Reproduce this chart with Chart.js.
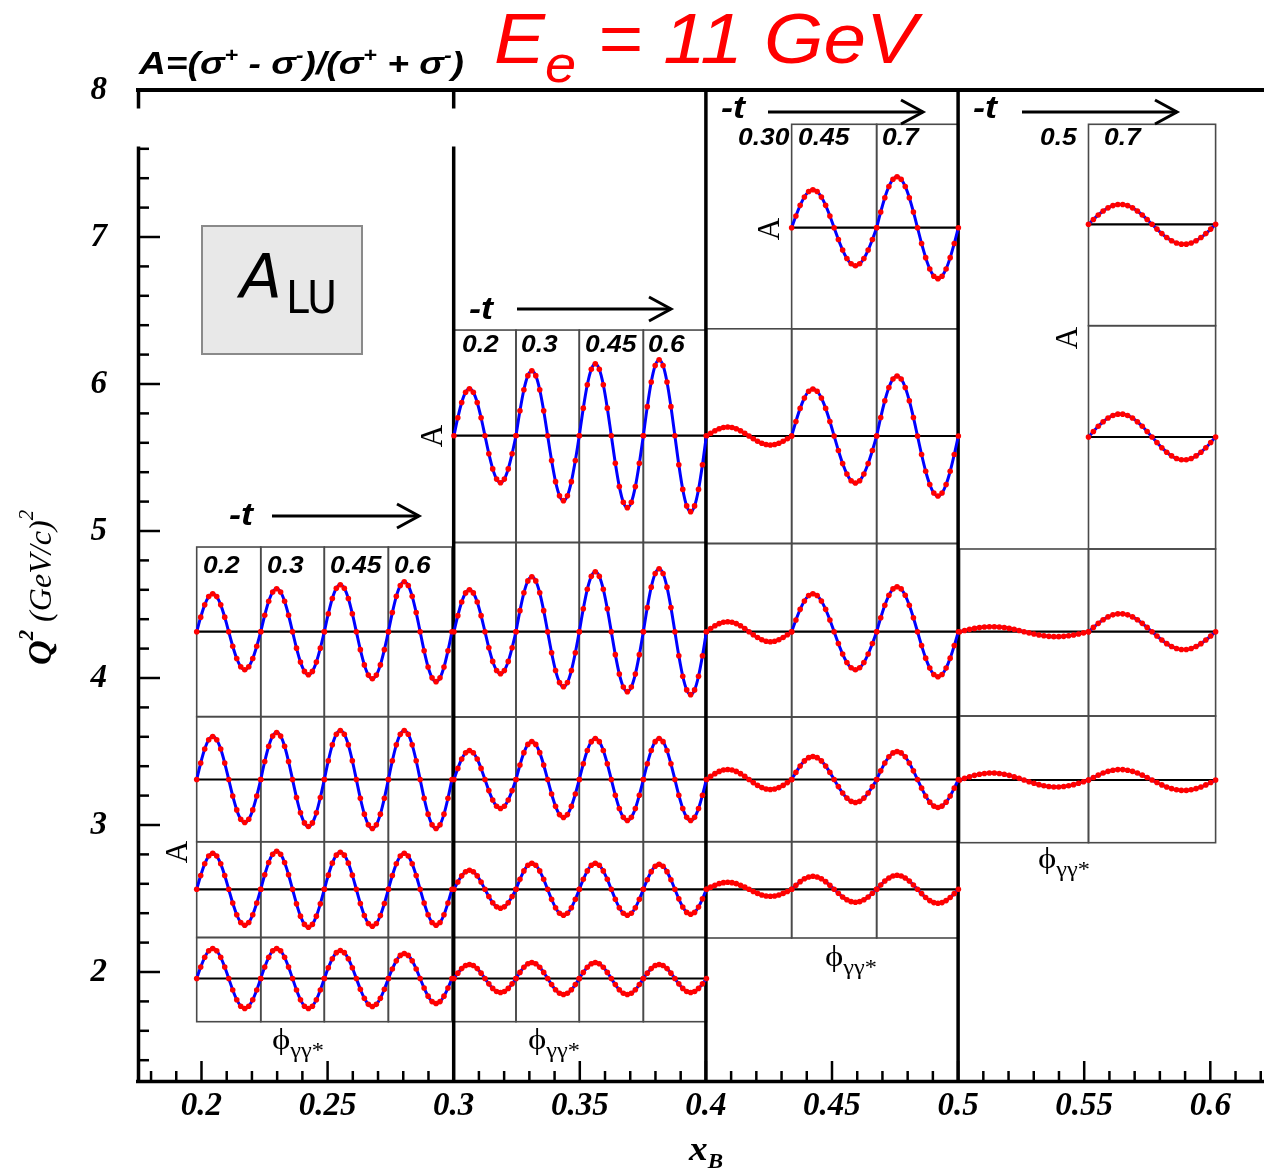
<!DOCTYPE html>
<html>
<head>
<meta charset="utf-8">
<script src="https://cdn.jsdelivr.net/npm/chart.js@4.4.0/dist/chart.umd.min.js"></script>
<style>
  html, body { margin: 0; padding: 0; background: #fff; }
  canvas { display: block; }
</style>
</head>
<body>
<canvas id="chart" width="1264" height="1172"></canvas>
<script>
// main axes
const xMajorTicks = [0.2, 0.25, 0.3, 0.35, 0.4, 0.45, 0.5, 0.55, 0.6];
const xTickLabels = ['0.2', '0.25', '0.3', '0.35', '0.4', '0.45', '0.5', '0.55', '0.6'];
const yMajorTicks = [2, 3, 4, 5, 6, 7, 8];
const yTickLabels = ['2', '3', '4', '5', '6', '7', '8'];

// -t bins of each xB bin
const tBins1 = ['0.2', '0.3', '0.45', '0.6'];
const tBins2 = ['0.2', '0.3', '0.45', '0.6'];
const tBins3 = ['0.30', '0.45', '0.7'];
const tBins4 = ['0.5', '0.7'];

// A_LU amplitude (A = a sin phi) for each inset, rows from high Q2 to low Q2, columns by -t
const alu1 = [
  [0.38, 0.43, 0.47, 0.50],
  [0.43, 0.47, 0.49, 0.49],
  [0.36, 0.38, 0.37, 0.36],
  [0.30, 0.30, 0.28, 0.25]
];
const alu2 = [
  [0.47, 0.65, 0.72, 0.76],
  [0.42, 0.55, 0.60, 0.63],
  [0.29, 0.38, 0.41, 0.41],
  [0.19, 0.26, 0.26, 0.25],
  [0.14, 0.16, 0.16, 0.14]
];
const alu3 = [
  [null, 0.38, 0.51],
  [0.09, 0.47, 0.60],
  [0.10, 0.38, 0.45],
  [0.10, 0.23, 0.28],
  [0.07, 0.13, 0.14]
];
const alu4 = [
  [null, 0.20],
  [null, 0.23],
  [0.05, 0.18],
  [0.07, 0.105]
];

// layout of the inset grids, in (xB, Q2) units
const X_MIN = 0.17443, X_MAX = 0.62129, Y_MIN = 1.2517, Y_MAX = 8;
const A_SCALE = 0.68; // Q2 units per unit of A inside an inset
const groups = [
  { cols: [0.1981, 0.2235, 0.2487, 0.2741, 0.2993], nSeg: 16, alu: alu1, tBins: tBins1,
    rows: [[4.891, 4.315, 3.737], [3.737, 3.3095, 2.886], [2.886, 2.5626, 2.2347], [2.2347, 1.9558, 1.6619]] },
  { cols: [0.3001, 0.3247, 0.3498, 0.3752, 0.4002], nSeg: 16, alu: alu2, tBins: tBins2,
    rows: [[6.367, 5.6483, 4.9218], [4.9218, 4.315, 3.7347], [3.7347, 3.3095, 2.886], [2.886, 2.5626, 2.2347], [2.2347, 1.9558, 1.6619]] },
  { cols: [0.4002, 0.4340, 0.4677, 0.5001], nSeg: 20, alu: alu3, tBins: tBins3,
    rows: [[7.7667, 7.0633, 6.3755], [6.3755, 5.6463, 4.915], [4.915, 4.315, 3.7347], [3.7347, 3.3095, 2.8864], [2.8864, 2.5626, 2.2313]] },
  { cols: [0.5006, 0.5517, 0.6021], nSeg: 26, alu: alu4, tBins: tBins4,
    rows: [[7.7667, 7.0864, 6.3966], [6.3966, 5.6395, 4.8776], [4.8776, 4.315, 3.7415], [3.7415, 3.3061, 2.8796]] }
];

// one dataset per inset
const datasets = [];
groups.forEach(g => {
  g.rows.forEach((r, ri) => {
    g.alu[ri].forEach((a, ci) => {
      if (a === null) return;
      const x0 = g.cols[ci], x1 = g.cols[ci + 1];
      const pts = [];
      for (let i = 0; i <= g.nSeg; i++) {
        const phi = i * 360 / g.nSeg;
        pts.push({ x: x0 + (x1 - x0) * phi / 360, y: r[1] + a * A_SCALE * Math.sin(phi * Math.PI / 180) });
      }
      datasets.push({
        data: pts,
        showLine: true,
        borderColor: '#0000ff',
        borderWidth: 3,
        cubicInterpolationMode: 'monotone',
        pointRadius: 2.8,
        pointBackgroundColor: '#ff0000',
        pointBorderWidth: 0
      });
    });
  });
});

function line(ctx, x0, y0, x1, y1) {
  ctx.beginPath(); ctx.moveTo(x0, y0); ctx.lineTo(x1, y1); ctx.stroke();
}

// text in pieces [text, font, dy], optionally squeezed to a width and rotated
function rich(ctx, parts, x, y, w, opts) {
  opts = opts || {};
  ctx.save();
  ctx.fillStyle = opts.color || '#000';
  ctx.textAlign = 'left';
  ctx.textBaseline = 'alphabetic';
  let total = 0;
  const widths = parts.map(p => { ctx.font = p[1]; const m = ctx.measureText(p[0]).width; total += m; return m; });
  ctx.translate(x, y);
  if (opts.rot) ctx.rotate(opts.rot);
  let off = 0;
  if (opts.center) off = -(w || total) / 2;
  ctx.translate(off, 0);
  ctx.scale(w ? w / total : 1, 1);
  let cx = 0;
  parts.forEach((p, i) => { ctx.font = p[1]; ctx.fillText(p[0], cx, p[2] || 0); cx += widths[i]; });
  ctx.restore();
}

const SANS = '"Liberation Sans", Arial, sans-serif';
const SERIF = '"Liberation Serif", "Times New Roman", serif';

const decor = {
  id: 'decor',
  beforeDatasetsDraw(chart) {
    const { ctx, chartArea: ca, scales: { x, y } } = chart;
    ctx.save();
    ctx.lineCap = 'butt';
    // inset frames and zero lines
    groups.forEach(g => {
      g.rows.forEach((r, ri) => {
        const top = y.getPixelForValue(r[0]), zero = y.getPixelForValue(r[1]), bot = y.getPixelForValue(r[2]);
        let zx0 = null, zx1 = null;
        g.alu[ri].forEach((a, ci) => {
          if (a === null) return;
          const l = x.getPixelForValue(g.cols[ci]), rr = x.getPixelForValue(g.cols[ci + 1]);
          ctx.strokeStyle = '#4a4a4a';
          ctx.lineWidth = 1.6;
          ctx.strokeRect(l, top, rr - l, bot - top);
          if (zx0 === null) zx0 = l;
          zx1 = rr;
        });
        ctx.strokeStyle = '#000';
        ctx.lineWidth = 2.2;
        line(ctx, zx0, zero, zx1, zero);
      });
    });
    // frame
    ctx.strokeStyle = '#000';
    ctx.lineWidth = 4;
    line(ctx, ca.left - 1, ca.top, ca.right, ca.top);
    ctx.lineWidth = 3.5;
    line(ctx, ca.left - 1, ca.bottom - 0.5, ca.right, ca.bottom - 0.5);
    line(ctx, ca.left + 1.5, ca.top - 2, ca.left + 1.5, ca.bottom + 1);
    [0.3, 0.4, 0.5].forEach(v => {
      const px = x.getPixelForValue(v);
      line(ctx, px, ca.top - 2, px, ca.bottom + 1);
    });
    // inward ticks
    ctx.lineWidth = 2.5;
    for (let i = 18; i <= 62; i++) {
      const px = x.getPixelForValue(i / 100);
      const len = (i % 5 === 0) ? 21 : 11;
      line(ctx, px, ca.bottom, px, ca.bottom - len);
    }
    for (let i = 7; i <= 40; i++) {
      const py = y.getPixelForValue(i / 5);
      const len = (i % 5 === 0) ? 23 : 12;
      line(ctx, ca.left, py, ca.left + len, py);
    }
    // break in the frame under the title
    ctx.fillStyle = '#fff';
    ctx.fillRect(ca.left - 10, 108.5, 22, 38);
    const p3 = x.getPixelForValue(0.3);
    ctx.fillRect(p3 - 6, 108.5, 12, 38);
    ctx.restore();
  },
  afterDraw(chart) {
    const { ctx } = chart;
    ctx.save();
    // titles
    const F = 'italic bold 32px ' + SANS, S = 'italic bold 20px ' + SANS;
    rich(ctx, [['A=(\u03c3', F], ['+', S, -12], [' - \u03c3', F], ['-', S, -12], [')/(\u03c3', F],
      ['+', S, -12], [' + \u03c3', F], ['-', S, -12], [')', F]], 139, 74, 325);
    rich(ctx, [['E', 'italic 71px ' + SANS], ['e', 'italic 52px ' + SANS, 19], [' = 11 GeV', 'italic 71px ' + SANS]],
      494, 63, 423, { color: '#ff0000' });

    // axis titles
    rich(ctx, [['Q', 'italic bold 33px ' + SERIF], ['2', 'italic bold 20px ' + SERIF, -18],
      [' (GeV/c)', 'italic 31px ' + SERIF], ['2', 'italic 20px ' + SERIF, -18]], 51, 665, 155, { rot: -Math.PI / 2 });
    rich(ctx, [['x', 'italic bold 34px ' + SERIF], ['B', 'italic bold 21px ' + SERIF, 8]], 689, 1160, 34);

    // A_LU box
    ctx.fillStyle = '#e8e8e8';
    ctx.fillRect(202, 226, 160, 128);
    ctx.strokeStyle = '#8a8a8a';
    ctx.lineWidth = 2;
    ctx.strokeRect(202, 226, 160, 128);
    rich(ctx, [['A', 'italic 60px "DejaVu Sans", sans-serif']], 240, 297, 42);
    rich(ctx, [['LU', '44px "DejaVu Sans", sans-serif']], 286, 313, 51);

    // -t arrows
    const arrows = [[229, 525, 272, 419, 516], [469, 319, 517, 671, 309], [721, 118, 768, 923, 112], [973, 118, 1022, 1177, 112]];
    arrows.forEach(a => {
      rich(ctx, [['-t', 'italic bold 32px ' + SANS]], a[0], a[1], 24);
      ctx.strokeStyle = '#000';
      ctx.lineWidth = 3;
      line(ctx, a[2], a[4], a[3], a[4]);
      ctx.beginPath();
      ctx.moveTo(a[3] - 22, a[4] - 12); ctx.lineTo(a[3], a[4]); ctx.lineTo(a[3] - 22, a[4] + 12);
      ctx.stroke();
    });

    // -t bin labels
    const TL = 'italic bold 24px ' + SANS;
    const tPos = [
      [[203, 573], [267, 573], [330, 573], [394, 573]],
      [[462, 352], [521, 352], [585, 352], [648, 352]],
      [[738, 145], [798, 145], [882, 145]],
      [[1040, 145], [1104, 145]]
    ];
    groups.forEach((g, gi) => {
      g.tBins.forEach((t, ti) => {
        ctx.font = TL;
        const w = ctx.measureText(t).width * 1.1;
        rich(ctx, [[t, TL]], tPos[gi][ti][0], tPos[gi][ti][1], w);
      });
    });

    // inset axis names
    [[176, 852], [431, 436], [768, 229], [1066, 338]].forEach(p => {
      rich(ctx, [['A', '31px ' + SERIF]], p[0] + 10.5, p[1], null, { rot: -Math.PI / 2, center: true });
    });
    [[272, 1049], [528, 1049], [825, 966], [1038, 868]].forEach(p => {
      rich(ctx, [['\u03d5', '30px ' + SERIF], ['\u03b3\u03b3*', '21px ' + SERIF, 8]], p[0], p[1], 52);
    });
    ctx.restore();
  }
};

const tickFont = { family: 'Liberation Serif', size: 33, style: 'italic', weight: 'bold' };

new Chart(document.getElementById('chart').getContext('2d'), {
  type: 'scatter',
  data: { datasets: datasets },
  options: {
    responsive: false,
    animation: false,
    events: [],
    layout: { autoPadding: false, padding: { top: 90, right: 0, left: 0, bottom: 0 } },
    plugins: { legend: { display: false }, tooltip: { enabled: false } },
    scales: {
      x: {
        type: 'linear', position: 'bottom', min: X_MIN, max: X_MAX,
        grid: { display: false, drawTicks: false },
        border: { display: false },
        ticks: {
          color: '#000', font: tickFont, padding: 5, autoSkip: false, maxRotation: 0,
          callback: (v, i) => xTickLabels[i]
        },
        afterBuildTicks: s => { s.ticks = xMajorTicks.map(v => ({ value: v })); },
        afterFit: s => { s.height = 90; s.paddingLeft = 0; s.paddingRight = 0; }
      },
      y: {
        type: 'linear', position: 'left', min: Y_MIN, max: Y_MAX,
        grid: { display: false, drawTicks: false },
        border: { display: false },
        ticks: {
          color: '#000', font: tickFont, padding: 30, autoSkip: false,
          callback: (v, i) => yTickLabels[i]
        },
        afterBuildTicks: s => { s.ticks = yMajorTicks.map(v => ({ value: v })); },
        afterFit: s => { s.width = 137; s.paddingTop = 0; s.paddingBottom = 0; }
      }
    }
  },
  plugins: [decor]
});
</script>
</body>
</html>
